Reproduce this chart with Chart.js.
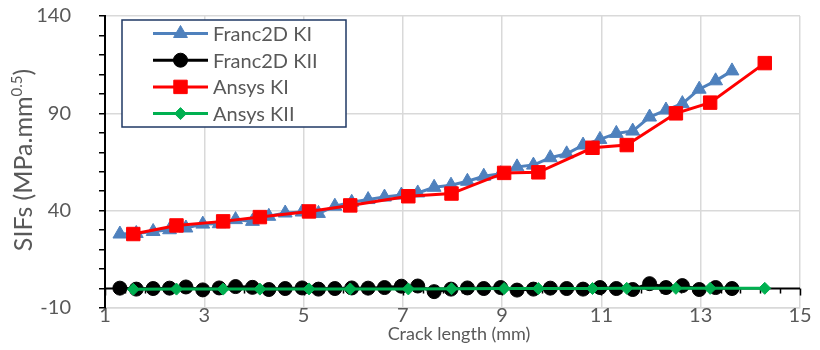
<!DOCTYPE html>
<html><head><meta charset="utf-8">
<script src="https://cdn.jsdelivr.net/npm/chart.js@4/dist/chart.umd.min.js"></script>
<style>html,body{margin:0;padding:0;background:#fff;}</style>
</head><body>
<canvas id="c" width="820" height="350"></canvas>
<script>
// ---- data ----
const seriesNames = ['Franc2D KI', 'Franc2D KII', 'Ansys KI', 'Ansys KII'];
const franc2dX = [1.30, 1.63, 1.97, 2.30, 2.63, 2.97, 3.30, 3.63, 3.97, 4.30, 4.63, 4.97, 5.30, 5.63, 5.97, 6.30, 6.63, 6.97, 7.30, 7.63,
                  7.97, 8.30, 8.63, 8.97, 9.30, 9.63, 9.97, 10.30, 10.63, 10.97, 11.30, 11.63, 11.97, 12.30, 12.63, 12.97, 13.30, 13.63];
const franc2dKI = [28.0, 28.3, 29.3, 30.2, 31.1, 33.1, 33.3, 35.4, 34.5, 37.1, 38.8, 39.3, 38.6, 42.3, 44.3, 45.7, 47.0, 48.0, 49.1, 52.0,
                   53.1, 55.1, 57.7, 59.0, 62.5, 63.4, 67.2, 69.2, 73.7, 76.6, 79.7, 80.9, 88.1, 91.7, 95.0, 102.4, 106.7, 111.8];
const franc2dKII = [0.2, -0.3, 0.0, 0.2, 0.8, -0.7, 0.3, 1.0, 0.6, -0.5, 0.0, 0.3, -0.3, 0.0, 0.3, 0.2, 0.5, 1.2, 1.3, -1.6,
                    -0.3, 0.3, 0.0, 0.5, -0.8, -0.3, 0.2, 0.0, -0.3, 0.5, 0.0, -0.5, 2.5, 0.5, 1.5, -0.5, 0.5, 0.0];
const ansysX = [1.57, 2.44, 3.38, 4.12, 5.11, 5.94, 7.11, 7.98, 9.04, 9.73, 10.82, 11.51, 12.50, 13.19, 14.29];
const ansysKI = [28.0, 32.4, 34.5, 36.7, 39.6, 42.7, 47.4, 48.8, 59.4, 59.7, 72.3, 73.7, 90.0, 95.5, 115.8];
const ansysKII = [-0.4, -0.3, -0.3, -0.3, -0.2, -0.2, -0.2, -0.1, 0.0, 0.0, 0.0, 0.1, 0.1, 0.1, 0.1];
const yMajorTicks = [-10, 40, 90, 140];
const xAxisTitle = 'Crack length (mm)';
const yAxisTitle = 'SIFs (MPa.mm';
const yAxisTitleSup = '0.5';
const yAxisTitleEnd = ')';

// ---- styles ----
const FONT = 'Lato, "Open Sans", sans-serif';
const TEXT = '#595959';
const GRID = '#d9d9d9';

function pts(xs, ys) { return xs.map((x, i) => ({ x: x, y: ys[i] })); }

const datasets = [
  { label: seriesNames[0], data: pts(franc2dX, franc2dKI), borderColor: '#4f81bd', backgroundColor: '#4f81bd',
    pointStyle: 'triangle', pointRadius: 8, pointBorderWidth: 1, borderWidth: 3, order: 4 },
  { label: seriesNames[1], data: pts(franc2dX, franc2dKII), borderColor: '#000000', backgroundColor: '#000000',
    pointStyle: 'circle', pointRadius: 7, pointBorderWidth: 1, borderWidth: 3, order: 3 },
  { label: seriesNames[2], data: pts(ansysX, ansysKI), borderColor: '#ff0000', backgroundColor: '#ff0000',
    pointStyle: 'rect', pointRadius: 9.5, pointBorderWidth: 1, borderWidth: 3, order: 2 },
  { label: seriesNames[3], data: pts(ansysX, ansysKII), borderColor: '#00b050', backgroundColor: '#00b050',
    pointStyle: 'rectRot', pointRadius: 6, pointBorderWidth: 1, borderWidth: 3, order: 1 }
];
datasets.forEach(d => { d.pointBackgroundColor = d.backgroundColor; d.pointBorderColor = d.borderColor; d.fill = false; d.tension = 0; });

// x axis line drawn at y = 0 (Excel style), under the series
const zeroAxis = {
  id: 'zeroAxis',
  beforeDatasetsDraw(chart) {
    const { ctx, chartArea: a, scales: { x, y } } = chart;
    const y0 = y.getPixelForValue(0);
    ctx.save();
    ctx.strokeStyle = '#000';
    ctx.lineWidth = 2;
    ctx.beginPath();
    ctx.moveTo(a.left, y0); ctx.lineTo(a.right, y0);
    ctx.stroke();
    ctx.lineWidth = 1.5;
    for (let v = x.min; v <= x.max + 1e-6; v += 0.4) {
      const px = Math.round(x.getPixelForValue(v)) + 0.5;
      const isMajor = Math.abs(((v - 1) / 2) - Math.round((v - 1) / 2)) < 1e-6;
      ctx.beginPath();
      ctx.moveTo(px, y0);
      ctx.lineTo(px, y0 + (isMajor ? 7 : 5));
      ctx.stroke();
    }
    ctx.restore();
  }
};

// legend box, axis titles
const overlay = {
  id: 'overlay',
  afterDraw(chart) {
    const { ctx, chartArea: a } = chart;
    ctx.save();
    // legend
    const bx = 122, by = 20, bw = 224, bh = 107;
    ctx.fillStyle = '#fff';
    ctx.fillRect(bx, by, bw, bh);
    ctx.strokeStyle = '#1f3864';
    ctx.lineWidth = 1.5;
    ctx.strokeRect(bx, by, bw, bh);
    chart.data.datasets.forEach((d, i) => {
      const ry = 33.5 + i * 26.7;
      ctx.strokeStyle = d.borderColor;
      ctx.lineWidth = 3;
      ctx.beginPath(); ctx.moveTo(153, ry); ctx.lineTo(208, ry); ctx.stroke();
      ctx.fillStyle = d.backgroundColor;
      ctx.lineWidth = 1;
      Chart.helpers.drawPoint(ctx, { pointStyle: d.pointStyle, radius: d.pointRadius, borderWidth: 1, rotation: 0 }, 180.5, ry);
      ctx.fillStyle = TEXT;
      ctx.font = '20px ' + FONT;
      ctx.textBaseline = 'middle';
      ctx.textAlign = 'left';
      ctx.fillText(d.label, 213, ry + 1);
    });
    // x title
    ctx.fillStyle = TEXT;
    ctx.font = '18px ' + FONT;
    ctx.textAlign = 'center';
    ctx.textBaseline = 'alphabetic';
    ctx.fillText(xAxisTitle, 459, 340);
    // y title with superscript
    ctx.translate(32, (a.top + a.bottom) / 2 - 2);
    ctx.rotate(-Math.PI / 2);
    const mainFont = '25px ' + FONT, supFont = '15px ' + FONT;
    ctx.font = mainFont; const w1 = ctx.measureText(yAxisTitle).width; const w3 = ctx.measureText(yAxisTitleEnd).width;
    ctx.font = supFont; const w2 = ctx.measureText(yAxisTitleSup).width;
    let sx = -(w1 + w2 + w3) / 2;
    ctx.textAlign = 'left';
    ctx.font = mainFont; ctx.fillText(yAxisTitle, sx, 0); sx += w1;
    ctx.font = supFont; ctx.fillText(yAxisTitleSup, sx, -10); sx += w2;
    ctx.font = mainFont; ctx.fillText(yAxisTitleEnd, sx, 0);
    ctx.restore();
  }
};

new Chart(document.getElementById('c'), {
  type: 'line',
  data: { datasets: datasets },
  options: {
    responsive: false,
    devicePixelRatio: 1,
    animation: false,
    layout: { padding: { left: 0, right: 20, top: 16, bottom: 0 } },
    plugins: { legend: { display: false }, tooltip: { enabled: false } },
    scales: {
      x: {
        type: 'linear', min: 1, max: 15,
        ticks: { stepSize: 2, color: TEXT, font: { family: FONT, size: 20 }, padding: -4, maxRotation: 0, autoSkip: false },
        grid: { color: c => (c.tick && c.tick.value === 1 ? 'rgba(0,0,0,0)' : GRID), lineWidth: 1.5, drawTicks: false },
        border: { color: GRID, width: 1.5 },
        afterFit: s => { s.height = 42; }
      },
      y: {
        type: 'linear', min: -10, max: 140,
        ticks: { stepSize: 10, autoSkip: false, color: TEXT, font: { family: FONT, size: 20 }, padding: 28,
                 callback: v => (yMajorTicks.includes(v) ? String(v) : '') },
        grid: { color: c => (c.tick && yMajorTicks.includes(c.tick.value) ? GRID : 'rgba(0,0,0,0)'),
                lineWidth: 1.5, drawTicks: true, tickLength: 6, tickColor: '#000', tickWidth: 1.5 },
        border: { color: '#000', width: 2 },
        afterFit: s => { s.width = 105; s.paddingTop = 0; s.paddingBottom = 0; }
      }
    }
  },
  plugins: [zeroAxis, overlay]
});
</script>
</body></html>
